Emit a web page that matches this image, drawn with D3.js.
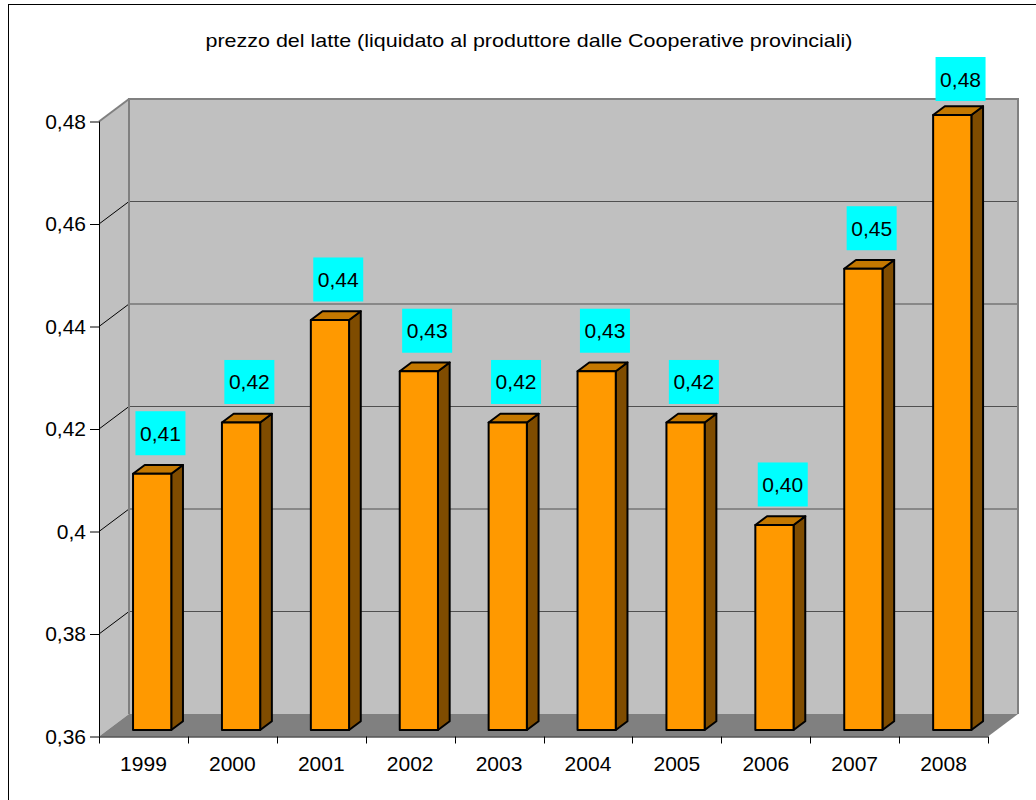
<!DOCTYPE html>
<html>
<head>
<meta charset="utf-8">
<script src="https://d3js.org/d3.v7.min.js"></script>
<style>
  body { margin: 0; background: #fff; }
  text { font-family: "Liberation Sans", Arial, sans-serif; fill: #000; }
</style>
</head>
<body>
<div id="chart"></div>
<script>
// data
var years = ["1999", "2000", "2001", "2002", "2003", "2004", "2005", "2006", "2007", "2008"];
var prices = [0.41, 0.42, 0.44, 0.43, 0.42, 0.43, 0.42, 0.40, 0.45, 0.48];
var yTicks = [0.36, 0.38, 0.40, 0.42, 0.44, 0.46, 0.48];
var title = "prezzo del latte (liquidato al produttore dalle Cooperative provinciali)";

var W = 1036, H = 800;

// front plane of the plot and the 3d depth vector
var pLeft = 99, pRight = 988, pBottom = 736.5, pTop = 121.5;
var dx = 30, dy = -22.5;
var barFront = 0.29, barDepth = 0.39;

var svg = d3.select("#chart")
    .append("svg")
    .attr("width", W)
    .attr("height", H);

// outer frame (right and bottom edges fall outside the picture)
svg.append("rect")
    .attr("x", 8.5).attr("y", 4.5)
    .attr("width", W + 20).attr("height", H + 20)
    .attr("fill", "#fff")
    .attr("stroke", "#000")
    .attr("stroke-width", 1);

// title
svg.append("text")
    .attr("x", 529)
    .attr("y", 47)
    .attr("text-anchor", "middle")
    .attr("textLength", 647)
    .attr("lengthAdjust", "spacingAndGlyphs")
    .style("font-size", "19px")
    .text(title);

// ---------------------------//
//       SCALES               //
// ---------------------------//
var x = d3.scaleBand()
    .domain(years)
    .range([pLeft, pRight])
    .padding(0);

var y = d3.scaleLinear()
    .domain([0.36, 0.48])
    .range([pBottom, pTop]);

var bw = x.bandwidth();
var barW = bw * 0.43;

// ---------------------------//
//       WALLS AND FLOOR      //
// ---------------------------//
// side wall
svg.append("polygon")
    .attr("points", [[pLeft, pBottom], [pLeft, pTop], [pLeft + dx, pTop + dy], [pLeft + dx, pBottom + dy]].join(" "))
    .attr("fill", "#c0c0c0");

// back wall
svg.append("rect")
    .attr("x", pLeft + dx)
    .attr("y", pTop + dy)
    .attr("width", pRight - pLeft)
    .attr("height", pBottom - pTop)
    .attr("fill", "#c0c0c0");

// floor
svg.append("polygon")
    .attr("points", [[pLeft, pBottom], [pRight, pBottom], [pRight + dx, pBottom + dy], [pLeft + dx, pBottom + dy]].join(" "))
    .attr("fill", "#808080");

// gridlines on the back wall
svg.append("g")
    .selectAll("line")
    .data(yTicks.slice(1, -1))
    .enter()
    .append("line")
    .attr("x1", pLeft + dx).attr("x2", pRight + dx)
    .attr("y1", function(d) { return y(d) + dy; })
    .attr("y2", function(d) { return y(d) + dy; })
    .attr("stroke", "#505050")
    .attr("stroke-width", 1.2);

// gridlines on the side wall
svg.append("g")
    .selectAll("line")
    .data(yTicks.slice(1))
    .enter()
    .append("line")
    .attr("x1", pLeft).attr("x2", pLeft + dx)
    .attr("y1", function(d) { return y(d); })
    .attr("y2", function(d) { return y(d) + dy; })
    .attr("stroke", function(d) { return d === 0.48 ? "#808080" : "#000"; })
    .attr("stroke-width", function(d) { return d === 0.48 ? 2 : 1; });

// back wall outline
svg.append("polyline")
    .attr("points", [[pLeft + dx, pBottom + dy], [pLeft + dx, pTop + dy], [pRight + dx, pTop + dy], [pRight + dx, pBottom + dy]].join(" "))
    .attr("fill", "none")
    .attr("stroke", "#808080")
    .attr("stroke-width", 2);

// ---------------------------//
//       AXES                 //
// ---------------------------//
svg.append("g")
    .attr("transform", "translate(" + pLeft + ",0)")
    .call(d3.axisLeft(y)
        .tickValues(yTicks)
        .tickSize(9)
        .tickPadding(4)
        .tickFormat(function(d) { return d3.format(".2~f")(d).replace(".", ","); }))
    .call(function(g) {
        g.select(".domain").attr("stroke", "#000").attr("d", "M0.5," + pBottom + "V" + pTop);
        g.selectAll(".tick text").style("font-size", "21px").attr("font-family", null);
    });

svg.append("g")
    .attr("transform", "translate(0," + pBottom + ")")
    .call(d3.axisBottom(x).tickSize(0).tickPadding(20))
    .call(function(g) {
        g.select(".domain").attr("stroke", "#000").attr("d", "M" + pLeft + ",0.5H" + pRight);
        g.selectAll(".tick text").style("font-size", "21px").attr("font-family", null);
    });

// ticks between categories
svg.append("g")
    .selectAll("line")
    .data(d3.range(years.length + 1))
    .enter()
    .append("line")
    .attr("x1", function(i) { return Math.round(pLeft + i * x.step()) + 0.5; })
    .attr("x2", function(i) { return Math.round(pLeft + i * x.step()) + 0.5; })
    .attr("y1", pBottom)
    .attr("y2", pBottom + 7)
    .attr("stroke", "#000");

// ---------------------------//
//       BARS                 //
// ---------------------------//
var fx = dx * barFront, fy = dy * barFront;
var bx = dx * barDepth, by = dy * barDepth;

var bars = svg.append("g")
    .selectAll("g")
    .data(prices)
    .enter()
    .append("g")
    .attr("stroke", "#000")
    .attr("stroke-width", 2)
    .attr("stroke-linejoin", "round");

// side
bars.append("polygon")
    .attr("points", function(d, i) {
        var x1 = x(years[i]) + (bw - barW) / 2 + fx + barW;
        var yt = y(d) + fy, yb = y(0.36) + fy;
        return [[x1, yb], [x1, yt], [x1 + bx, yt + by], [x1 + bx, yb + by]].join(" ");
    })
    .attr("fill", "#7f4c00");

// top
bars.append("polygon")
    .attr("points", function(d, i) {
        var x0 = x(years[i]) + (bw - barW) / 2 + fx;
        var yt = y(d) + fy;
        return [[x0, yt], [x0 + barW, yt], [x0 + barW + bx, yt + by], [x0 + bx, yt + by]].join(" ");
    })
    .attr("fill", "#c47800");

// front
bars.append("rect")
    .attr("x", function(d, i) { return x(years[i]) + (bw - barW) / 2 + fx; })
    .attr("y", function(d) { return y(d) + fy; })
    .attr("width", barW)
    .attr("height", function(d) { return y(0.36) - y(d); })
    .attr("fill", "#ff9900");

// ---------------------------//
//       DATA LABELS          //
// ---------------------------//
var boxW = 50, boxH = 44;
var labels = svg.append("g")
    .selectAll("g")
    .data(prices)
    .enter()
    .append("g")
    .attr("transform", function(d, i) {
        var cx = x(years[i]) + bw / 2 + 17;
        var ty = Math.max(57, y(d) + fy - 18.5 - boxH);
        return "translate(" + (cx - boxW / 2) + "," + ty + ")";
    });

labels.append("rect")
    .attr("width", boxW)
    .attr("height", boxH)
    .attr("fill", "#00ffff");

labels.append("text")
    .attr("x", boxW / 2)
    .attr("y", boxH / 2 + 7.5)
    .attr("text-anchor", "middle")
    .style("font-size", "21px")
    .text(function(d) { return d3.format(".2f")(d).replace(".", ","); });
</script>
</body>
</html>
